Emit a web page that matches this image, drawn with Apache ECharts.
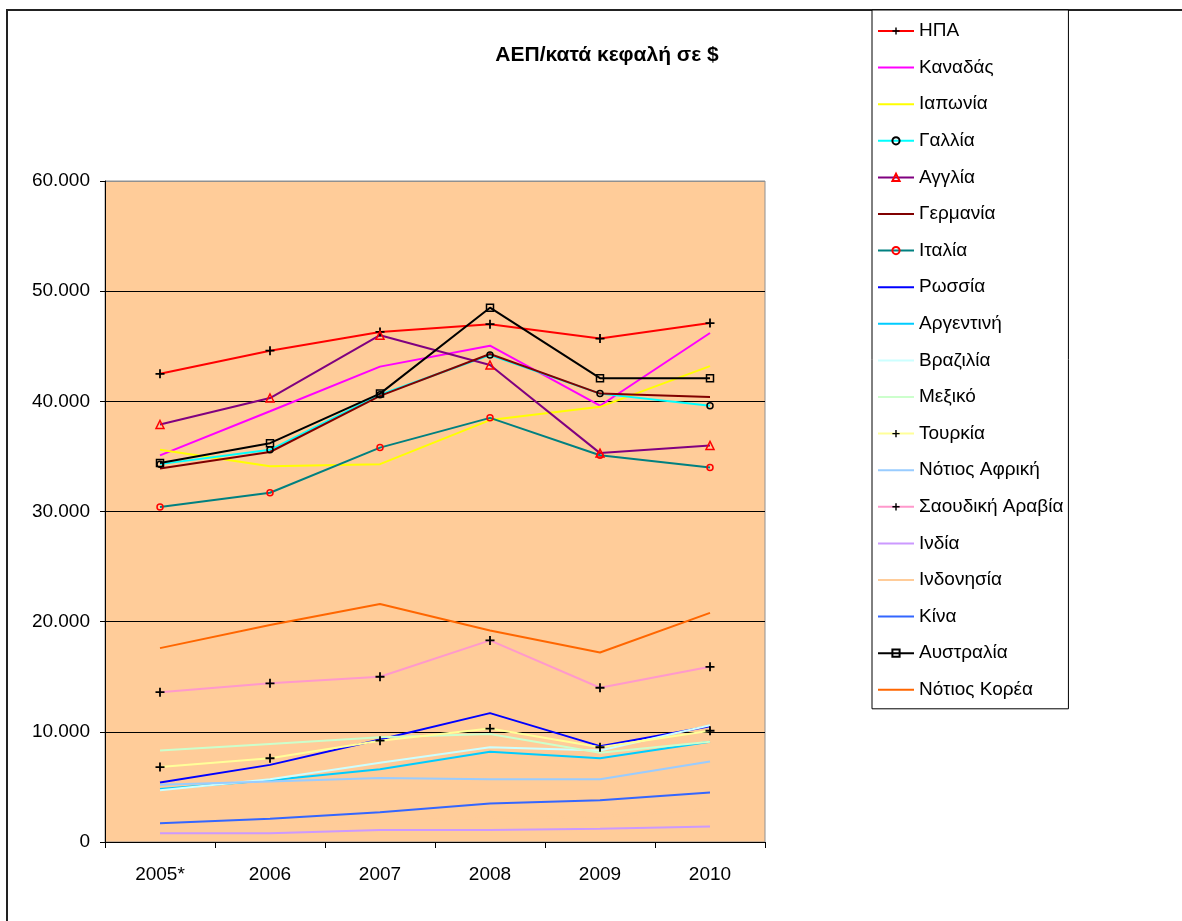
<!DOCTYPE html>
<html>
<head>
<meta charset="utf-8">
<title>ΑΕΠ/κατά κεφαλή σε $</title>
<script src="https://cdn.jsdelivr.net/npm/echarts@6/dist/echarts.min.js"></script>
<style>
  html, body { margin: 0; padding: 0; background: #ffffff; }
  #chart { width: 1182px; height: 921px; }
</style>
</head>
<body>
<div id="chart"></div>
<script>
// Years on the horizontal axis
const years = ['2005*', '2006', '2007', '2008', '2009', '2010'];

// GDP per capita in US dollars, one array per country
const usa = [42500, 44600, 46300, 47000, 45700, 47100];
const canada = [35100, 39100, 43150, 45050, 39600, 46200];
const japan = [35600, 34100, 34300, 38300, 39500, 43200];
const france = [34300, 35600, 40600, 44200, 40700, 39600];
const uk = [37900, 40300, 46000, 43300, 35300, 36000];
const germany = [33900, 35400, 40500, 44300, 40700, 40400];
const italy = [30400, 31700, 35800, 38500, 35100, 34000];
const russia = [5400, 7000, 9300, 11700, 8700, 10500];
const argentina = [4800, 5600, 6600, 8200, 7600, 9100];
const brazil = [4700, 5700, 7200, 8600, 8300, 10600];
const mexico = [8300, 8900, 9500, 9800, 8100, 9100];
const turkey = [6800, 7600, 9200, 10300, 8600, 10100];
const southAfrica = [5200, 5500, 5800, 5700, 5700, 7300];
const saudiArabia = [13600, 14400, 15000, 18300, 14000, 15900];
const india = [800, 800, 1100, 1100, 1200, 1400];
const indonesia = [1300, 1600, 1900, 2200, 2300, 3000];
const china = [1700, 2100, 2700, 3500, 3800, 4500];
const australia = [34400, 36200, 40700, 48500, 42100, 42100];
const southKorea = [17600, 19700, 21600, 19200, 17200, 20800];

// Value axis ticks
const yMin = 0;
const yMax = 60000;
const yStep = 10000;

const FONT = '"Liberation Sans", Arial, sans-serif';
const PLUS = 'path://M4,0H6V4H10V6H6V10H4V6H0V4H4Z';
const HOLLOW = 'rgba(0,0,0,0)';

function line(name, data, color, marker) {
  const s = {
    name: name,
    type: 'line',
    data: data,
    lineStyle: { color: color, width: 2 },
    itemStyle: { color: color },
    symbol: 'none',
    emphasis: { disabled: true },
    z: 2
  };
  if (marker === 'plus') {
    s.symbol = PLUS;
    s.symbolSize = 9;
    s.itemStyle = { color: '#000000' };
  } else if (marker === 'circleBlack') {
    s.symbol = 'circle';
    s.symbolSize = 6;
    s.itemStyle = { color: HOLLOW, borderColor: '#000000', borderWidth: 1.5 };
  } else if (marker === 'circleRed') {
    s.symbol = 'circle';
    s.symbolSize = 6;
    s.itemStyle = { color: HOLLOW, borderColor: '#ff0000', borderWidth: 1.5 };
  } else if (marker === 'triangle') {
    s.symbol = 'triangle';
    s.symbolSize = 8;
    s.itemStyle = { color: HOLLOW, borderColor: '#ff0000', borderWidth: 1.5 };
  } else if (marker === 'square') {
    s.symbol = 'rect';
    s.symbolSize = 7;
    s.itemStyle = { color: HOLLOW, borderColor: '#000000', borderWidth: 1.5 };
  }
  return s;
}

const series = [
  line('ΗΠΑ', usa, '#ff0000', 'plus'),
  line('Καναδάς', canada, '#ff00ff'),
  line('Ιαπωνία', japan, '#ffff00'),
  line('Γαλλία', france, '#00ffff', 'circleBlack'),
  line('Αγγλία', uk, '#800080', 'triangle'),
  line('Γερμανία', germany, '#800000'),
  line('Ιταλία', italy, '#008080', 'circleRed'),
  line('Ρωσσία', russia, '#0000ff'),
  line('Αργεντινή', argentina, '#00ccff'),
  line('Βραζιλία', brazil, '#ccffff'),
  line('Μεξικό', mexico, '#ccffcc'),
  line('Τουρκία', turkey, '#ffff99', 'plus'),
  line('Νότιος Αφρική', southAfrica, '#99ccff'),
  line('Σαουδική Αραβία', saudiArabia, '#ff99cc', 'plus'),
  line('Ινδία', india, '#cc99ff'),
  line('Ινδονησία', indonesia, '#ffcc99'),
  line('Κίνα', china, '#3366ff'),
  line('Αυστραλία', australia, '#000000', 'square'),
  line('Νότιος Κορέα', southKorea, '#ff6600')
];

// Series without markers show only a line in the legend
const legendItems = series.map(s => s.symbol === 'none'
  ? { name: s.name, itemStyle: { color: HOLLOW, borderWidth: 0, opacity: 0 } }
  : { name: s.name });

// Grid lines: black, except the top edge of the plot which is grey
const splitColors = ['#000000', '#000000', '#000000', '#000000', '#000000', '#000000', '#909090'];

const chart = echarts.init(document.getElementById('chart'), null, { renderer: 'canvas' });

chart.setOption({
  animation: false,
  backgroundColor: '#ffffff',
  textStyle: { fontFamily: FONT },
  title: {
    text: 'ΑΕΠ/κατά κεφαλή σε $',
    left: 602,
    top: 40,
    textAlign: 'center',
    textStyle: { fontFamily: FONT, fontSize: 21, fontWeight: 'bold', color: '#000000' }
  },
  graphic: [{
    type: 'rect',
    shape: { x: 7, y: 10, width: 1300, height: 1000 },
    style: { fill: 'none', stroke: '#222222', lineWidth: 2 },
    silent: true,
    z: -10
  }],
  legend: {
    orient: 'vertical',
    left: 872,
    top: 10,
    padding: [11, 5, 9, 5],
    itemWidth: 36,
    itemHeight: 9,
    itemGap: 16.6,
    backgroundColor: '#ffffff',
    borderColor: '#000000',
    borderWidth: 1,
    textStyle: { fontFamily: FONT, fontSize: 19, lineHeight: 20, color: '#000000' },
    selectedMode: false,
    data: legendItems
  },
  grid: {
    left: 105,
    top: 181,
    width: 660,
    height: 661,
    show: true,
    backgroundColor: '#ffcc99',
    borderColor: '#909090',
    borderWidth: 1
  },
  xAxis: {
    type: 'category',
    data: years,
    boundaryGap: true,
    axisLine: { lineStyle: { color: '#000000', width: 1 } },
    axisTick: { show: true, length: 6, lineStyle: { color: '#000000' } },
    axisLabel: { color: '#000000', fontSize: 19, fontFamily: FONT, margin: 23 },
    splitLine: { show: false }
  },
  yAxis: {
    type: 'value',
    min: yMin,
    max: yMax,
    interval: yStep,
    axisLine: { show: true, lineStyle: { color: '#000000', width: 1 } },
    axisTick: { show: true, length: 5, lineStyle: { color: '#000000' } },
    axisLabel: {
      color: '#000000',
      fontSize: 19,
      fontFamily: FONT,
      margin: 15,
      formatter: v => v === 0 ? '0' : (v / 1000) + '.000'
    },
    splitLine: { show: true, lineStyle: { color: splitColors, width: 1 } }
  },
  series: series
});
</script>
</body>
</html>
